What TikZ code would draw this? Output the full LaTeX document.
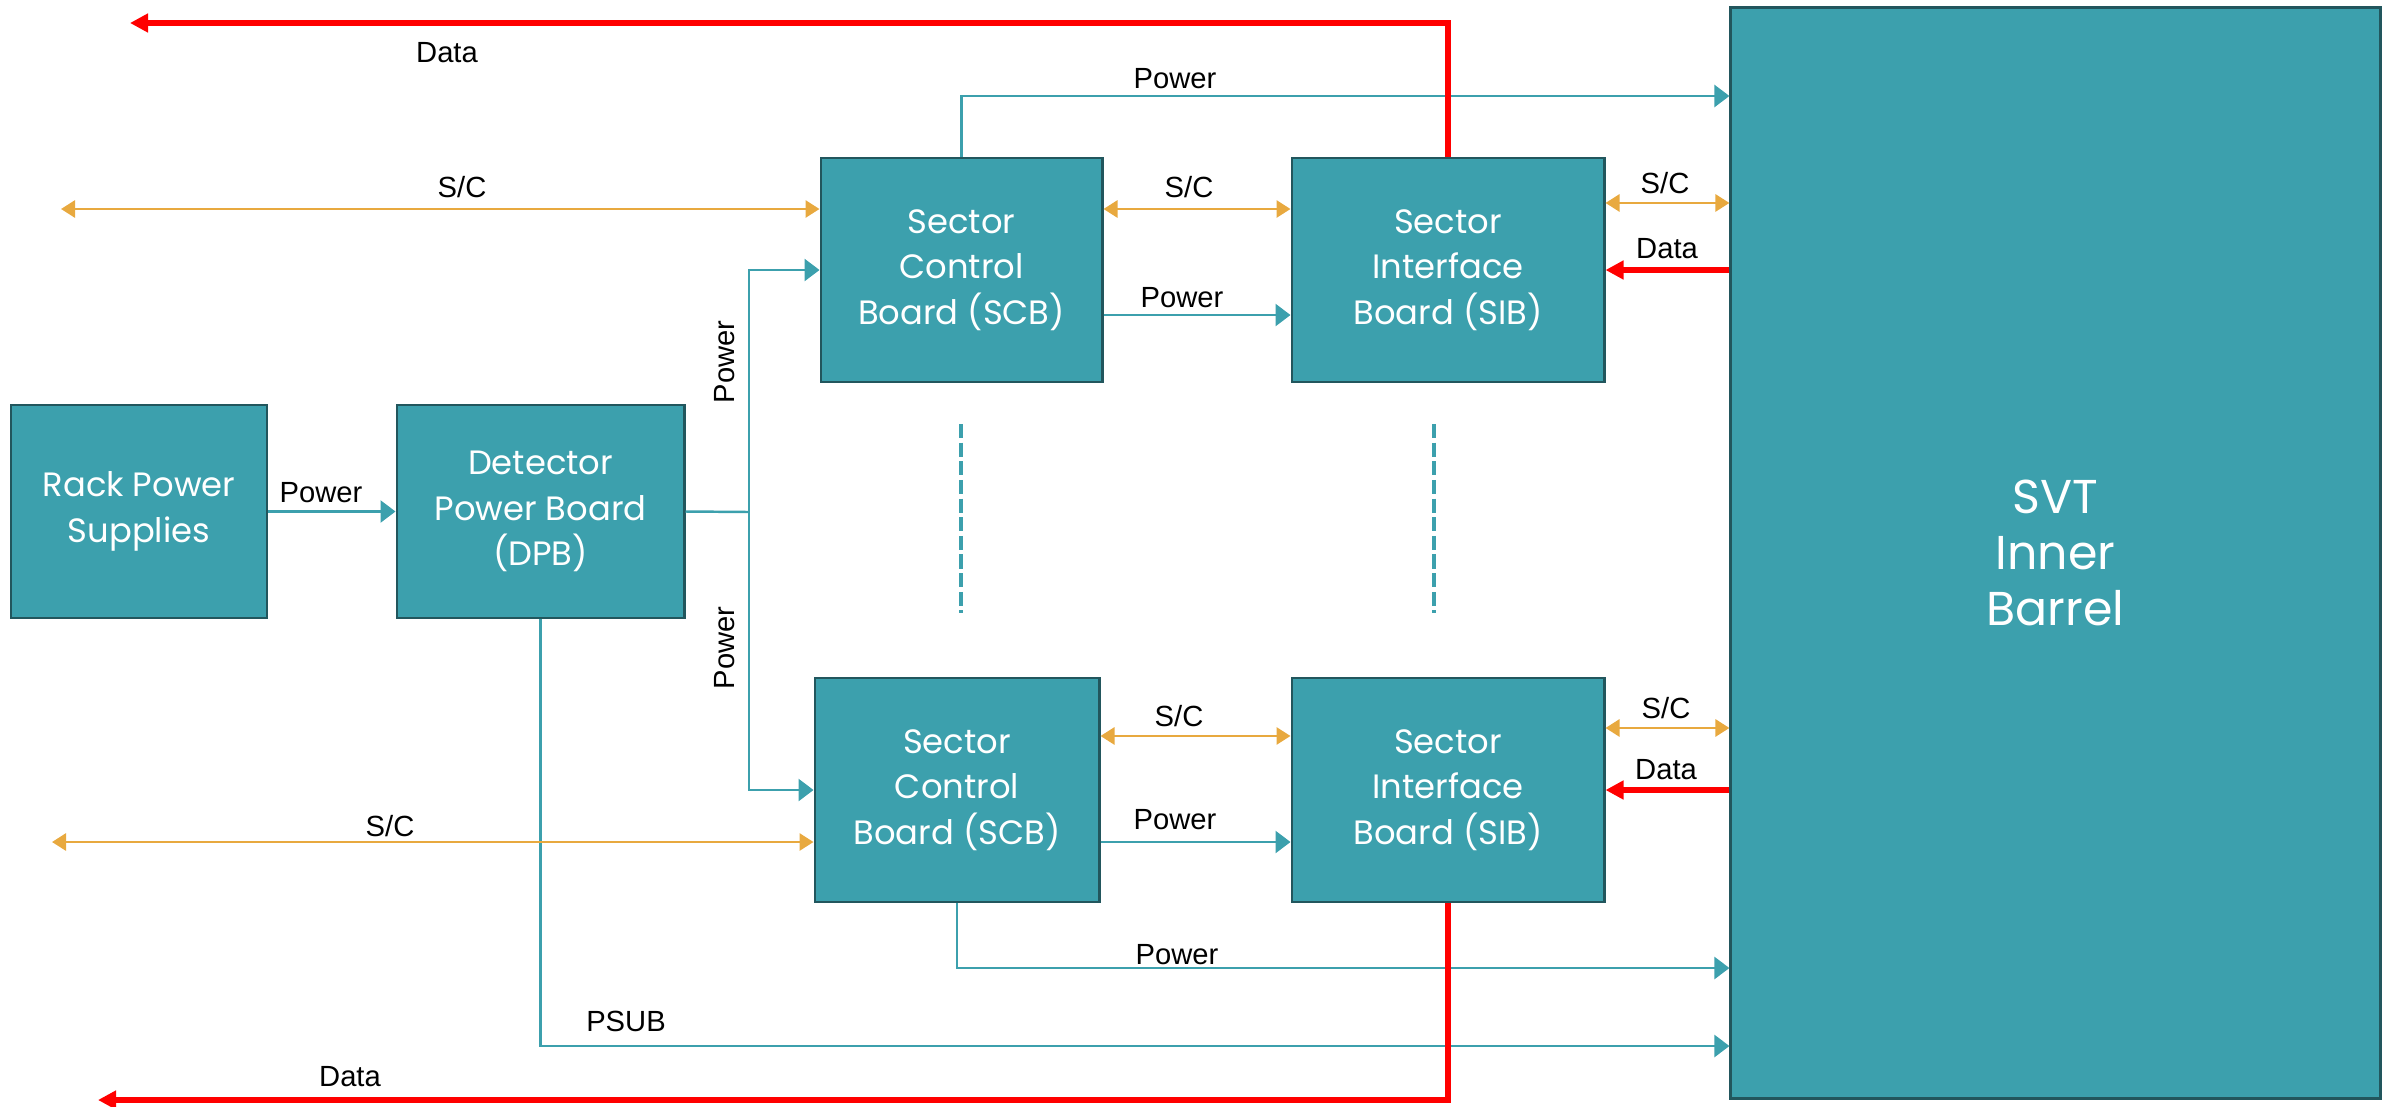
\documentclass[tikz,border=0pt]{standalone}
\usepackage{fontspec}
\setmainfont{Liberation Sans}
\newfontfamily\boardfont{Poppins}
\usetikzlibrary{arrows.meta,positioning}

\definecolor{svtteal}{HTML}{3CA0AD}
\definecolor{svtedge}{HTML}{22565D}
\definecolor{scorange}{HTML}{E8A93F}
\definecolor{datared}{HTML}{FF0000}

\tikzset{
  board/.style={draw=svtedge, fill=svtteal, line width=0.8pt, text=white, align=center,
    font=\boardfont\fontsize{9.6}{12.9}\selectfont, inner sep=0pt},
  pwrline/.style={draw=svtteal, line width=0.7pt},
  pwr/.style={pwrline, -{Triangle[length=1.5mm,width=2.2mm]}},
  sc/.style={draw=scorange, line width=0.8pt,
    {Triangle[length=1.4mm,width=1.7mm]}-{Triangle[length=1.4mm,width=1.7mm]}},
  dat/.style={draw=datared, line width=1.7pt, -{Triangle[length=1.8mm,width=1.8mm]}},
  lbl/.style={font=\fontsize{8.3}{10}\selectfont, inner sep=0pt},
}

\begin{document}
\begin{tikzpicture}[x=0.01cm, y=-0.01cm]
    \useasboundingbox (0,0) rectangle (2392,1106);

    % Platinen
    \node[board, minimum width=2.56cm, minimum height=2.13cm] (rack) at (139,511.5) {Rack Power\\Supplies};
    \node[board, minimum width=2.87cm, minimum height=2.13cm] (dpb) at (540.5,511.5) {Detector\\Power Board\\(DPB)};
    \node[board, minimum width=2.81cm, minimum height=2.24cm] (scbA) at (961.5,270) {Sector\\Control\\Board (SCB)};
    \node[board, minimum width=3.12cm, minimum height=2.24cm] (sibA) at (1448,270) {Sector\\Interface\\Board (SIB)};
    \node[board, minimum width=2.84cm, minimum height=2.24cm] (scbB) at (957,790) {Sector\\Control\\Board (SCB)};
    \node[board, minimum width=3.12cm, minimum height=2.24cm] (sibB) at (1448,790) {Sector\\Interface\\Board (SIB)};
    \node[board, minimum width=6.49cm, minimum height=10.9cm,
          font=\boardfont\fontsize{13.5}{16}\selectfont] (svt) at (2055.5,553) {SVT\\Inner\\Barrel};

    % Freie Enden
    \coordinate (split) at (749,512);
    \coordinate (scA) at (61,209);
    \coordinate (scB) at (52,842);
    \coordinate (pwrTop) at (scbA.north |- 0,96);
    \coordinate (pwrBot) at (scbB.south |- 0,968);
    \coordinate (psub) at (dpb.south |- 0,1046);
    \coordinate (datTop) at (130,23);
    \coordinate (datBot) at (98,1100);

    % Versorgung
    \draw[pwr] (rack) -- (dpb);
    \draw[pwrline] (dpb.east) -- (split);
    \draw[pwr] (split) |- (scbA.west);
    \draw[pwr] (split) |- (scbB.west);
    \draw[pwr] ([yshift=-0.45cm]scbA.east) -- ([yshift=-0.45cm]sibA.west);
    \draw[pwr] (scB -| scbB.east) -- (scB -| sibB.west);
    \draw[pwr] (scbA.north) -- (pwrTop) -- (pwrTop -| svt.west);
    \draw[pwr] (scbB.south) -- (pwrBot) -- (pwrBot -| svt.west);
    \draw[pwr] (dpb.south) -- (psub) -- (psub -| svt.west);

    % Slow Control
    \draw[sc] (scA) -- (scA -| scbA.west);
    \draw[sc] (scA -| scbA.east) -- (scA -| sibA.west);
    \draw[sc] ([yshift=0.67cm]sibA.east) -- ([yshift=0.67cm]sibA.east -| svt.west);
    \draw[sc] (scB) -- (scB -| scbB.west);
    \draw[sc] ([yshift=0.54cm]scbB.east) -- ([yshift=0.54cm]sibB.west);
    \draw[sc] ([yshift=0.62cm]sibB.east) -- ([yshift=0.62cm]sibB.east -| svt.west);

    % weitere Sektoren
    \draw[pwrline, line width=1.3pt, dash pattern=on 4pt off 1.3pt] (961,424) -- (961,613);
    \draw[pwrline, line width=1.3pt, dash pattern=on 4pt off 1.3pt] (1434,424) -- (1434,613);

    % Daten
    \draw[dat] (sibA.east -| svt.west) -- (sibA.east);
    \draw[dat] (sibB.east -| svt.west) -- (sibB.east);
    \draw[dat] (sibA.north) |- (datTop);
    \draw[dat] (sibB.south) |- (datBot);

    % Beschriftungen
    \node[lbl] (lRack) at (321,493) {Power};
    \node[lbl, rotate=90] (lUp) at (725,362) {Power};
    \node[lbl, rotate=90] (lDown) at (725,648) {Power};
    \node[lbl] (lScA) at (462,187) {S/C};
    \node[lbl] (lPTop) at (1175,79) {Power};
    \node[lbl] (lDTop) at (447,53) {Data};
    \node[lbl] (lScAB) at (1189,187) {S/C};
    \node[lbl] (lPA) at (1182,298) {Power};
    \node[lbl] (lScAS) at (1665,183) {S/C};
    \node[lbl] (lDA) at (1667,249) {Data};
    \node[lbl] (lScBB) at (1179,716) {S/C};
    \node[lbl] (lPB) at (1175,820) {Power};
    \node[lbl] (lScBS) at (1666,708) {S/C};
    \node[lbl] (lDB) at (1666,770) {Data};
    \node[lbl] (lScB) at (390,826) {S/C};
    \node[lbl] (lPBot) at (1177,955) {Power};
    \node[lbl] (lPsub) at (626,1021) {PSUB};
    \node[lbl] (lDBot) at (350,1077) {Data};

\end{tikzpicture}
\end{document}
